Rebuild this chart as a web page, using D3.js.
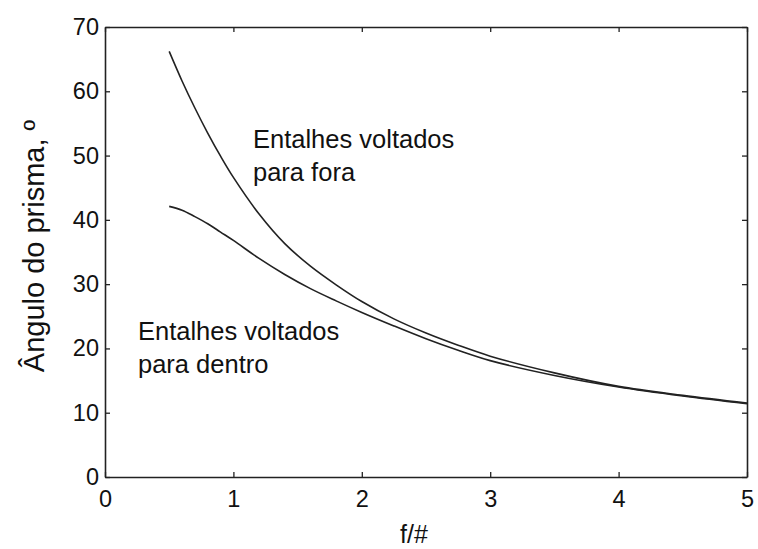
<!DOCTYPE html>
<html>
<head>
<meta charset="utf-8">
<script src="https://cdn.jsdelivr.net/npm/d3@7"></script>
<style>
  body { margin: 0; background: #fff; }
  svg { display: block; font-family: "Liberation Sans", Arial, sans-serif; }
</style>
</head>
<body>
<svg id="chart" width="758" height="549"></svg>
<script>
// Data
const fNumber = [0.5, 0.6, 0.7, 0.8, 0.9, 1.0, 1.2, 1.4, 1.6, 1.8, 2.0, 2.25, 2.5, 2.75, 3.0, 3.5, 4.0, 4.5, 5.0];
const outwardAngle = [66.2, 61.6, 57.4, 53.5, 49.9, 46.6, 40.9, 36.3, 32.8, 29.9, 27.3, 24.6, 22.4, 20.5, 18.8, 16.2, 14.1, 12.7, 11.5];
const inwardAngle  = [42.1, 41.5, 40.5, 39.4, 38.1, 36.8, 34.0, 31.5, 29.3, 27.4, 25.6, 23.5, 21.5, 19.7, 18.1, 15.8, 14.0, 12.6, 11.4];
const xTicks = [0, 1, 2, 3, 4, 5];
const yTicks = [0, 10, 20, 30, 40, 50, 60, 70];
const xLabel = "f/#";
const yLabel = "Ângulo do prisma, º";
const outwardText = ["Entalhes voltados", "para fora"];
const inwardText = ["Entalhes voltados", "para dentro"];

const W = 758, H = 549;
const margin = { left: 105, right: 11, top: 27, bottom: 72 };
const svg = d3.select("#chart");

const x = d3.scaleLinear().domain([0, 5]).range([margin.left, W - margin.right]);
const y = d3.scaleLinear().domain([0, 70]).range([H - margin.bottom, margin.top]);

const ink = "#222";

// axes
const gx = svg.append("g").attr("transform", `translate(0,${y(0)})`)
  .call(d3.axisBottom(x).tickValues(xTicks).tickFormat(d3.format("d")).tickSizeInner(-5).tickSizeOuter(0).tickPadding(13));
const gxt = svg.append("g").attr("transform", `translate(0,${y(70)})`)
  .call(d3.axisTop(x).tickValues(xTicks).tickFormat("").tickSizeInner(-5).tickSizeOuter(0));
const gy = svg.append("g").attr("transform", `translate(${x(0)},0)`)
  .call(d3.axisLeft(y).tickValues(yTicks).tickFormat(d3.format("d")).tickSizeInner(-5).tickSizeOuter(0).tickPadding(6));
const gyr = svg.append("g").attr("transform", `translate(${x(5)},0)`)
  .call(d3.axisRight(y).tickValues(yTicks).tickFormat("").tickSizeInner(-5).tickSizeOuter(0));

[gx, gxt, gy, gyr].forEach(g => {
  g.select(".domain").attr("stroke", ink).attr("stroke-width", 1.6);
  g.selectAll(".tick line").attr("stroke", ink).attr("stroke-width", 1.3);
  g.selectAll(".tick text").attr("fill", "#111").style("font-size", "23.5px").style("font-family", '"Liberation Sans", Arial, sans-serif');
});

// curves
const line = d3.line().x((d, i) => x(fNumber[i])).y(d => y(d)).curve(d3.curveCatmullRom.alpha(0.5));
[outwardAngle, inwardAngle].forEach(series => {
  svg.append("path").datum(series).attr("d", line)
    .attr("fill", "none").attr("stroke", ink).attr("stroke-width", 1.6);
});

// annotations
function block(lines, x0, y0) {
  const t = svg.append("text").attr("x", x0).attr("y", y0).attr("fill", "#111").style("font-size", "25.5px");
  lines.forEach((s, i) => t.append("tspan").attr("x", x0).attr("dy", i === 0 ? 0 : 33).text(s));
}
block(outwardText, 253, 148);
block(inwardText, 138, 339.5);

// axis labels
svg.append("text").attr("x", 414).attr("y", 543).attr("text-anchor", "middle")
  .attr("fill", "#111").style("font-size", "25px").text(xLabel);
svg.append("text").attr("transform", "translate(44,246) rotate(-90)").attr("text-anchor", "middle")
  .attr("fill", "#111").style("font-size", "29px").text(yLabel);
</script>
</body>
</html>
